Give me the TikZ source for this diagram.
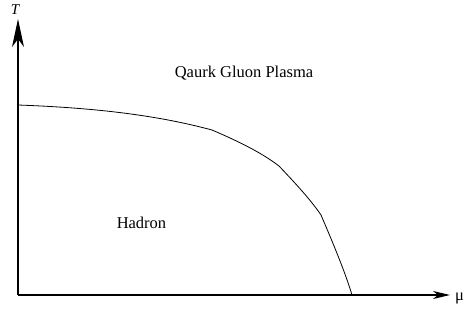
\documentclass[tikz,border=0pt]{standalone}
\usepackage{fontspec}
\setmainfont{Liberation Serif}
\newfontfamily\lserif{Liberation Serif}
\usetikzlibrary{arrows.meta}
\begin{document}
\begin{tikzpicture}[x=1pt,y=-1pt,
  axis/.style={line width=1.2pt},
  lbl/.style={inner sep=0pt,anchor=base,font=\lserif\fontsize{16.5}{18}\selectfont}]
\useasboundingbox (0,0) rectangle (470,332);
\coordinate (O) at (18,295);
\coordinate (Ttop) at (18,19);
\coordinate (Mend) at (450,295);
\draw[axis,-{Stealth[length=28pt,width=12pt,inset=8pt]}] (O) -- (Ttop);
\draw[axis,-{Stealth[length=17pt,width=8pt,inset=5pt]}] (O) -- (Mend);
\node[lbl,font=\lserif\fontsize{15}{18}\selectfont\itshape] (T) at (15,14) {T};
\node[lbl,anchor=base west] (mu) at (455,300) {μ};
\node[lbl] (qgp) at (244,77.7) {Qaurk Gluon Plasma};
\node[lbl] (had) at (141.5,228) {Hadron};
\draw[line width=0.8pt] (18,105) .. controls (100,108) and (160,116) .. (212,130)
  .. controls (240,142) and (262,153) .. (279,166)
  .. controls (296,184) and (310,199) .. (321,215)
  .. controls (336,250) and (346,275) .. (352,295);
\end{tikzpicture}
\end{document}
